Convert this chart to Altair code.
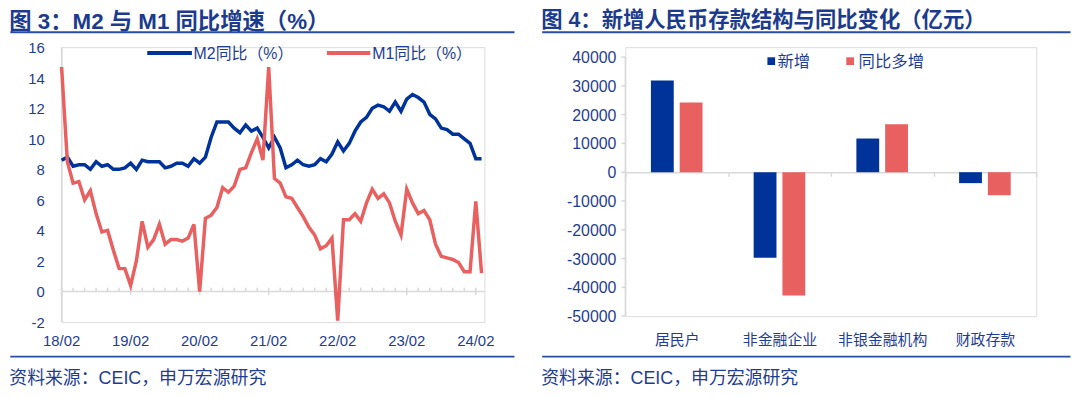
import altair as alt
import pandas as pd

FONT = "Liberation Sans, Noto Sans CJK SC, sans-serif"
NAVY = "#003399"
RED = "#E8605F"
TXT = "#1F3D8F"
TITLE_C = "#1C3B8C"
RULE = "#2A4DA0"
AXIS = "#D9D9D9"

# ---------------- data: left panel (monthly, 2018-01 .. 2024-02) ----------------
series_names = ["M2同比（%）", "M1同比（%）"]
m2_yoy = [8.6, 8.8, 8.2, 8.3, 8.3, 8.0, 8.5, 8.2, 8.3, 8.0, 8.0, 8.1,
          8.4, 8.0, 8.6, 8.5, 8.5, 8.5, 8.1, 8.2, 8.4, 8.4, 8.2, 8.7,
          8.4, 8.8, 10.1, 11.1, 11.1, 11.1, 10.7, 10.4, 10.9, 10.5, 10.7, 10.1,
          9.4, 10.1, 9.4, 8.1, 8.3, 8.6, 8.3, 8.2, 8.3, 8.7, 8.5, 9.0,
          9.8, 9.2, 9.7, 10.5, 11.1, 11.4, 12.0, 12.2, 12.1, 11.8, 12.4, 11.8,
          12.6, 12.9, 12.7, 12.4, 11.6, 11.3, 10.7, 10.6, 10.3, 10.3, 10.0, 9.7,
          8.7, 8.7]
m1_yoy = [14.7, 8.5, 7.1, 7.2, 6.0, 6.6, 5.1, 3.9, 4.0, 2.7, 1.5, 1.5,
          0.4, 2.0, 4.6, 2.9, 3.4, 4.4, 3.1, 3.4, 3.4, 3.3, 3.5, 4.4,
          0.0, 4.8, 5.0, 5.5, 6.8, 6.5, 6.9, 8.0, 8.1, 9.1, 10.0, 8.6,
          14.7, 7.4, 7.1, 6.2, 6.1, 5.5, 4.9, 4.2, 3.7, 2.8, 3.0, 3.5,
          -1.9, 4.7, 4.7, 5.1, 4.6, 5.8, 6.7, 6.1, 6.4, 5.8, 4.6, 3.7,
          6.7, 5.8, 5.1, 5.3, 4.7, 3.1, 2.3, 2.2, 2.1, 1.9, 1.3, 1.3,
          5.9, 1.2]
x_labels = ["18/02", "19/02", "20/02", "21/02", "22/02", "23/02", "24/02"]
x_label_pos = [0, 12, 24, 36, 48, 60, 72]
y_ticks_left = [-2, 0, 2, 4, 6, 8, 10, 12, 14, 16]

# ---------------- data: right panel ----------------
categories = ["居民户", "非金融企业", "非银金融机构", "财政存款"]
bar_series = ["新增", "同比多增"]
new_vals = [31900, -29700, 11700, -3800]
yoy_vals = [24200, -42800, 16700, -8000]
y_ticks_right = [-50000, -40000, -30000, -20000, -10000, 0, 10000, 20000, 30000, 40000]

left_title = "图 3：M2 与 M1 同比增速（%）"
right_title = "图 4：新增人民币存款结构与同比变化（亿元）"
source_text = "资料来源：CEIC，申万宏源研究"

one = pd.DataFrame({"k": [0]})

RULE_TOP, RULE_BOT, SRC_Y = -14.9, 311.8, 334.6


def frame(title, title_size, left, right):
    title_y = -36.9 + title_size / 2
    return [
        alt.Chart(one).mark_text(align="left", baseline="middle", fontSize=title_size, fontWeight="bold",
                                 font=FONT, color=TITLE_C).encode(
            x=alt.value(-left), y=alt.value(title_y), text=alt.value(title)),
        alt.Chart(one).mark_rule(color=RULE, strokeWidth=2).encode(
            x=alt.value(-left + 1), x2=alt.value(right - 1), y=alt.value(RULE_TOP)),
        alt.Chart(one).mark_rule(color=RULE, strokeWidth=2).encode(
            x=alt.value(-left + 1), x2=alt.value(right - 1), y=alt.value(RULE_BOT)),
        alt.Chart(one).mark_text(align="left", baseline="middle", fontSize=18,
                                 font=FONT, color=TXT).encode(
            x=alt.value(-left), y=alt.value(SRC_Y), text=alt.value(source_text)),
    ]


# ---------------- left panel ----------------
W1, H1 = 426, 277
n = len(m2_yoy)
line_df = pd.DataFrame({
    "idx": list(range(n)) * 2,
    "value": m2_yoy + m1_yoy,
    "series": [series_names[0]] * n + [series_names[1]] * n,
})

xs = alt.Scale(domain=[0, 73.5], nice=False, zero=False)
ys = alt.Scale(domain=[-2, 16], nice=False, zero=False)

m2_line = alt.Chart(line_df).transform_filter(alt.datum.series == series_names[0]).mark_line(
    color=NAVY, strokeWidth=3.5).encode(
    x=alt.X("idx:Q", scale=xs, axis=None), y=alt.Y("value:Q", scale=ys, axis=None))
m1_line = alt.Chart(line_df).transform_filter(alt.datum.series == series_names[1]).mark_line(
    color=RED, strokeWidth=3.5).encode(
    x=alt.X("idx:Q", axis=None), y=alt.Y("value:Q", axis=None))

ydom_l_df = pd.DataFrame({"lo": [y_ticks_left[0]], "hi": [y_ticks_left[-1]], "z": [0]})
y_dom_l = alt.Chart(ydom_l_df).mark_rule(color=AXIS, strokeWidth=1.5).encode(
    x=alt.value(0), y=alt.Y("lo:Q", axis=None), y2="hi:Q")
zero_rule = alt.Chart(ydom_l_df).mark_rule(color=AXIS, strokeWidth=1.5).encode(
    x=alt.value(0), x2=alt.value(W1), y=alt.Y("z:Q", axis=None))

tick_idx = list(range(0, 73, 2))
tick_df = pd.DataFrame({
    "idx": tick_idx,
    "lo": [-0.22 if i % 12 == 0 else 0.0 for i in tick_idx],
    "hi": [0.25] * len(tick_idx),
})
ticks = alt.Chart(tick_df).mark_rule(color=AXIS, strokeWidth=1.5).encode(
    x=alt.X("idx:Q", axis=None), y=alt.Y("lo:Q", axis=None), y2="hi:Q")

xlab_df = pd.DataFrame({"idx": x_label_pos, "label": x_labels})
x_lab = alt.Chart(xlab_df).mark_text(baseline="middle", fontSize=15, font=FONT, color=TXT).encode(
    x=alt.X("idx:Q", axis=None), y=alt.value(296.4), text="label:N")
ylab_df = pd.DataFrame({"v": y_ticks_left, "label": [str(v) for v in y_ticks_left]})
y_lab = alt.Chart(ylab_df).mark_text(align="right", baseline="middle", fontSize=15, font=FONT,
                                     color=TXT, dy=1).encode(
    x=alt.value(-17), y=alt.Y("v:Q", axis=None), text="label:N")

leg_l = []
for name, color, x1, x2, tx in [(series_names[0], NAVY, 86.3, 131.3, 133.0),
                                (series_names[1], RED, 267.3, 311.0, 313.0)]:
    leg_l.append(alt.Chart(one).mark_rule(color=color, strokeWidth=4).encode(
        x=alt.value(x1), x2=alt.value(x2), y=alt.value(5.8)))
    leg_l.append(alt.Chart(one).mark_text(align="left", baseline="middle", fontSize=16, font=FONT,
                                          color=TXT).encode(
        x=alt.value(tx), y=alt.value(6.8), text=alt.value(name)))

left = alt.layer(y_dom_l, zero_rule, ticks, m2_line, m1_line, x_lab, y_lab, *leg_l,
                 *frame(left_title, 22.5, 52.7, 457.3)).properties(width=W1, height=H1)

# ---------------- right panel ----------------
W2, H2 = 414, 271
PX_PER_UNIT = 0.0029
y_top = round(-50000 + H2 / PX_PER_UNIT)
zero_y = y_top * PX_PER_UNIT

bar_df = pd.DataFrame({
    "category": categories * 2,
    "series": [bar_series[0]] * len(categories) + [bar_series[1]] * len(categories),
    "value": new_vals + yoy_vals,
})
ys_r = alt.Scale(domain=[-50000, y_top], nice=False, zero=False)

bars = alt.Chart(bar_df).mark_bar().encode(
    x=alt.X("category:N", sort=categories, scale=alt.Scale(paddingInner=0, paddingOuter=0),
            axis=alt.Axis(title=None, domain=True, domainColor=AXIS, domainWidth=1.5, ticks=True,
                          tickColor=AXIS, tickWidth=1.5, tickSize=4, tickBand="extent",
                          offset=-(H2 - zero_y), labelPadding=158, labelAngle=0, labelColor=TXT,
                          labelFontSize=15, labelFont=FONT, grid=False)),
    xOffset=alt.XOffset("series:N", sort=bar_series,
                        scale=alt.Scale(paddingInner=0.207, paddingOuter=0.888)),
    y=alt.Y("value:Q", scale=ys_r, axis=None),
    color=alt.Color("series:N", scale=alt.Scale(domain=bar_series, range=[NAVY, RED]), legend=None),
)

ydom_r_df = pd.DataFrame({"lo": [y_ticks_right[0]], "hi": [y_ticks_right[-1]]})
y_dom_r = alt.Chart(ydom_r_df).mark_rule(color=AXIS, strokeWidth=1.5).encode(
    x=alt.value(0), y=alt.Y("lo:Q", axis=None), y2="hi:Q")
ylab_r_df = pd.DataFrame({"v": y_ticks_right, "label": [str(v) for v in y_ticks_right]})
y_ticks_r = alt.Chart(ylab_r_df).mark_rule(color=AXIS, strokeWidth=1.5).encode(
    x=alt.value(-4), x2=alt.value(0), y=alt.Y("v:Q", axis=None))
y_lab_r = alt.Chart(ylab_r_df).mark_text(align="right", baseline="middle", fontSize=16, font=FONT,
                                         color=TXT, dy=1).encode(
    x=alt.value(-9), y=alt.Y("v:Q", axis=None), text="label:N")

leg_r = []
for name, color, sx, tx in [(bar_series[0], NAVY, 147.0, 153.3), (bar_series[1], RED, 226.5, 235.0)]:
    leg_r.append(alt.Chart(one).mark_square(size=60, color=color, opacity=1).encode(
        x=alt.value(sx), y=alt.value(14.1)))
    leg_r.append(alt.Chart(one).mark_text(align="left", baseline="middle", fontSize=16.5, font=FONT,
                                          color=TXT).encode(
        x=alt.value(tx), y=alt.value(15.3), text=alt.value(name)))

right = alt.layer(bars, y_dom_r, y_ticks_r, y_lab_r, *leg_r,
                  *frame(right_title, 21.5, 84.8, 449.5)).properties(width=W2, height=H2)

chart = alt.hconcat(left, right, spacing=24, padding=0).configure_view(stroke=None).configure(
    font=FONT)

chart.save("out.html", embed_options={"renderer": "svg", "actions": False})
